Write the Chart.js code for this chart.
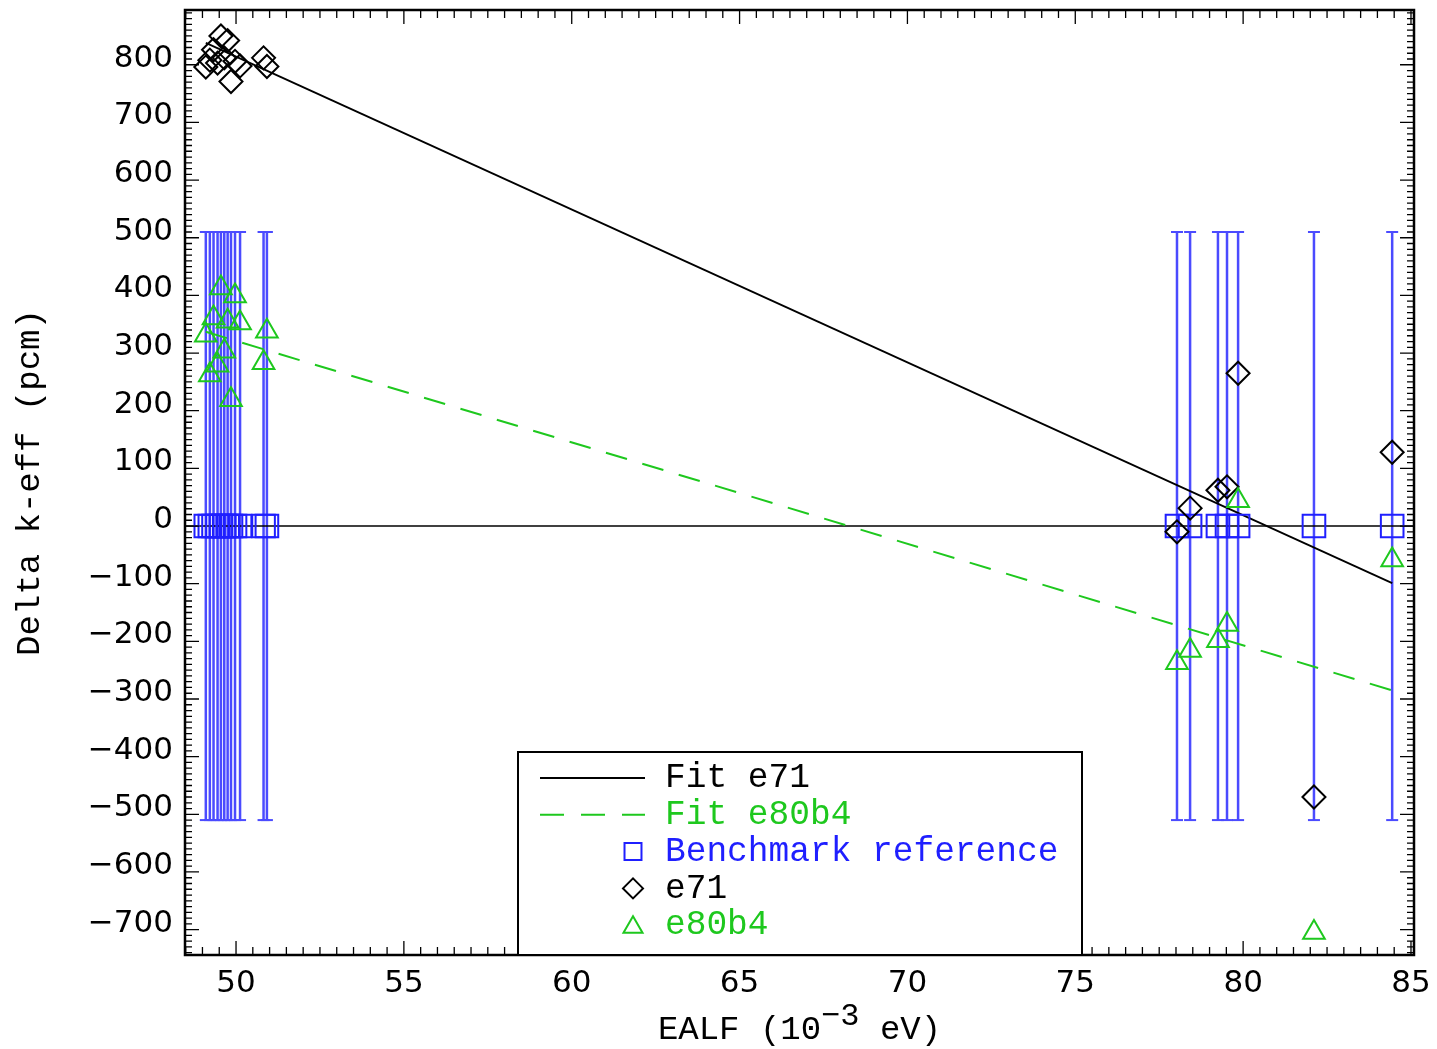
<!DOCTYPE html>
<html lang="en">
<head>
  <meta charset="UTF-8">
  <title>Delta k-eff vs EALF</title>
  <script src="https://cdn.jsdelivr.net/npm/chart.js"></script>
  <style>
    html,body{margin:0; padding:0; background:#fff;}
    #wrap{width:1437px; height:1049px;}
  </style>
</head>
<body>
<div id="wrap">
  <canvas id="myChart" width="1437" height="1049"></canvas>
</div>
<script>
  // EALF of each benchmark case (10^-3 eV)
  const ealf = [49.10, 49.22, 49.33, 49.45, 49.55, 49.65, 49.75, 49.85, 49.97, 50.12, 50.82, 50.92,
                78.03, 78.42, 79.25, 79.52, 79.85, 82.11, 84.44];
  // benchmark reference value and its uncertainty (pcm)
  const benchRef = [0, 0, 0, 0, 0, 0, 0, 0, 0, 0, 0, 0, 0, 0, 0, 0, 0, 0, 0];
  const benchErr = [510, 510, 510, 510, 510, 510, 510, 510, 510, 510, 510, 510, 510, 510, 510, 510, 510, 510, 510];
  // calculated - benchmark (pcm)
  const e71   = [796, 808, 826, 803, 850, 812, 842, 771, 806, 798, 812, 797,
                 -10, 31, 62, 68, 265, -470, 128];
  const e80b4 = [331, 262, 361, 279, 413, 303, 355, 219, 399, 352, 283, 338,
                 -237, -216, -199, -171, 44, -705, -59];
  // linear fits, end points
  const fitX     = [49.10, 84.44];
  const fitE71   = [838, -99];
  const fitE80b4 = [337, -285];

  const xMin = 48.48, xMax = 85.09;
  const yMin = -744, yMax = 895;

  const BLUE = '#1f1fff', BAR = '#4b4bff', GREEN = '#1ec81e', BLACK = '#000';
  const MONO = '"Liberation Mono", "DejaVu Sans Mono", monospace';

  // error bars: one broken line, null splits every bar
  let errData = [];
  for (let i = 0; i < ealf.length; i++) {
    errData.push({x: ealf[i], y: benchRef[i] - benchErr[i]});
    errData.push({x: ealf[i], y: benchRef[i] + benchErr[i]});
    errData.push({x: ealf[i], y: null});
  }
  const pts = (xs, ys) => xs.map((x, i) => ({x: x, y: ys[i]}));

  // inward ticks on all four sides + frame
  const frame = {
    id: 'frame',
    afterDatasetsDraw(chart) {
      const {ctx, chartArea: a, scales: {x, y}} = chart;
      ctx.save();
      ctx.strokeStyle = BLACK;
      ctx.lineWidth = 1.3;
      ctx.beginPath();
      for (let k = Math.ceil(xMin * 2); k <= Math.floor(xMax * 2); k++) {
        const px = x.getPixelForValue(k / 2);
        const len = (k % 10 === 0) ? 14 : 8;
        ctx.moveTo(px, a.bottom); ctx.lineTo(px, a.bottom - len);
        ctx.moveTo(px, a.top); ctx.lineTo(px, a.top + len);
      }
      for (let k = Math.ceil(yMin / 10); k <= Math.floor(yMax / 10); k++) {
        const py = y.getPixelForValue(k * 10);
        const len = (k % 10 === 0) ? 14 : 7;
        ctx.moveTo(a.left, py); ctx.lineTo(a.left + len, py);
        ctx.moveTo(a.right, py); ctx.lineTo(a.right - len, py);
      }
      ctx.stroke();
      ctx.lineWidth = 2.5;
      ctx.strokeRect(a.left, a.top, a.right - a.left, a.bottom - a.top);

      // x axis title with superscript
      ctx.fillStyle = BLACK;
      ctx.textBaseline = 'alphabetic';
      const f1 = '34px ' + MONO, f2 = '32px ' + MONO;
      ctx.font = f1;
      const w1 = ctx.measureText('EALF (10').width;
      const w3 = ctx.measureText(' eV)').width;
      ctx.font = f2;
      const w2 = ctx.measureText('\u22123').width;
      let tx = (a.left + a.right) / 2 - (w1 + w2 + w3) / 2;
      const ty = 1039;
      ctx.font = f1; ctx.fillText('EALF (10', tx, ty); tx += w1;
      ctx.font = f2; ctx.fillText('\u22123', tx, ty - 14); tx += w2;
      ctx.font = f1; ctx.fillText(' eV)', tx, ty);
      ctx.restore();
    }
  };

  // boxed legend inside the plot
  const boxLegend = {
    id: 'boxLegend',
    afterDraw(chart) {
      const {ctx, chartArea: a} = chart;
      const left = 518, right = 1082, top = 752;
      ctx.save();
      ctx.fillStyle = '#fff';
      ctx.fillRect(left, top, right - left, a.bottom - top);
      ctx.strokeStyle = BLACK;
      ctx.lineWidth = 2;
      ctx.strokeRect(left, top, right - left, a.bottom - top);

      const rows = [
        {text: 'Fit e71', color: BLACK, kind: 'line'},
        {text: 'Fit e80b4', color: GREEN, kind: 'dash'},
        {text: 'Benchmark reference', color: BLUE, kind: 'rect', r: 12},
        {text: 'e71', color: BLACK, kind: 'rectRot', r: 10},
        {text: 'e80b4', color: GREEN, kind: 'triangle', r: 11}
      ];
      ctx.font = '34.5px ' + MONO;
      ctx.textBaseline = 'middle';
      rows.forEach((row, i) => {
        const cy = 778 + i * 36.8;
        ctx.strokeStyle = row.color;
        ctx.fillStyle = row.color;
        if (row.kind === 'line' || row.kind === 'dash') {
          ctx.lineWidth = 2;
          ctx.setLineDash(row.kind === 'dash' ? [24, 17] : []);
          ctx.beginPath();
          ctx.moveTo(540, cy); ctx.lineTo(645, cy);
          ctx.stroke();
          ctx.setLineDash([]);
        } else {
          ctx.lineWidth = 2;
          ctx.fillStyle = 'rgba(0,0,0,0)';
          Chart.helpers.drawPoint(ctx, {pointStyle: row.kind, radius: row.r, rotation: 0, borderWidth: 2},
            633, row.kind === 'triangle' ? cy + 2 : cy);
          ctx.fillStyle = row.color;
        }
        ctx.fillText(row.text, 665, cy);
      });
      ctx.restore();
    }
  };

  const ctx = document.getElementById('myChart');
  new Chart(ctx, {
    type: 'scatter',
    data: {
      datasets: [
        {
          label: 'error',
          data: errData,
          showLine: true,
          spanGaps: false,
          borderColor: BAR,
          borderWidth: 2.5,
          pointStyle: 'line',
          pointRadius: 6,
          pointBorderColor: BAR,
          pointBorderWidth: 2,
          order: 6
        },
        {
          label: 'zero',
          data: [{x: xMin, y: 0}, {x: xMax, y: 0}],
          showLine: true,
          borderColor: BLACK,
          borderWidth: 1.5,
          pointRadius: 0,
          order: 5
        },
        {
          label: 'Fit e71',
          data: pts(fitX, fitE71),
          showLine: true,
          borderColor: BLACK,
          borderWidth: 1.8,
          pointRadius: 0,
          order: 4
        },
        {
          label: 'Fit e80b4',
          data: pts(fitX, fitE80b4),
          showLine: true,
          borderColor: GREEN,
          borderWidth: 2,
          borderDash: [22, 16],
          pointRadius: 0,
          order: 4
        },
        {
          label: 'Benchmark reference',
          data: pts(ealf, benchRef),
          pointStyle: 'rect',
          pointRadius: 16,
          borderColor: BLUE,
          backgroundColor: 'rgba(0,0,0,0)',
          borderWidth: 2,
          order: 3
        },
        {
          label: 'e71',
          data: pts(ealf, e71),
          pointStyle: 'rectRot',
          pointRadius: 11.5,
          borderColor: BLACK,
          backgroundColor: 'rgba(0,0,0,0)',
          borderWidth: 2,
          order: 2
        },
        {
          label: 'e80b4',
          data: pts(ealf, e80b4),
          pointStyle: 'triangle',
          pointRadius: 12.5,
          borderColor: GREEN,
          backgroundColor: 'rgba(0,0,0,0)',
          borderWidth: 2,
          order: 1
        }
      ]
    },
    options: {
      responsive: false,
      animation: false,
      events: [],
      layout: {autoPadding: false, padding: {left: 0, top: 10, right: 23, bottom: 0}},
      plugins: {
        legend: {display: false},
        tooltip: {enabled: false}
      },
      scales: {
        x: {
          type: 'linear',
          min: xMin,
          max: xMax,
          grid: {display: false, drawTicks: false},
          border: {display: false},
          ticks: {
            stepSize: 5,
            includeBounds: false,
            maxRotation: 0,
            padding: 10,
            color: BLACK,
            font: {family: '"DejaVu Sans", sans-serif', size: 31}
          },
          afterFit: (s) => { s.height = 94; s.paddingLeft = 0; s.paddingRight = 0; }
        },
        y: {
          type: 'linear',
          min: yMin,
          max: yMax,
          grid: {display: false, drawTicks: false},
          border: {display: false},
          ticks: {
            stepSize: 100,
            includeBounds: false,
            padding: 12,
            labelOffset: -6,
            color: BLACK,
            font: {family: '"DejaVu Sans", sans-serif', size: 31},
            callback: (v) => v < 0 ? '\u2212' + Math.abs(v) : String(v)
          },
          title: {
            display: true,
            text: 'Delta k-eff (pcm)',
            color: BLACK,
            font: {family: MONO, size: 34},
            padding: {top: 10, bottom: 0}
          },
          afterFit: (s) => { s.width = 185; s.paddingTop = 0; s.paddingBottom = 0; }
        }
      }
    },
    plugins: [frame, boxLegend]
  });
</script>
</body>
</html>
